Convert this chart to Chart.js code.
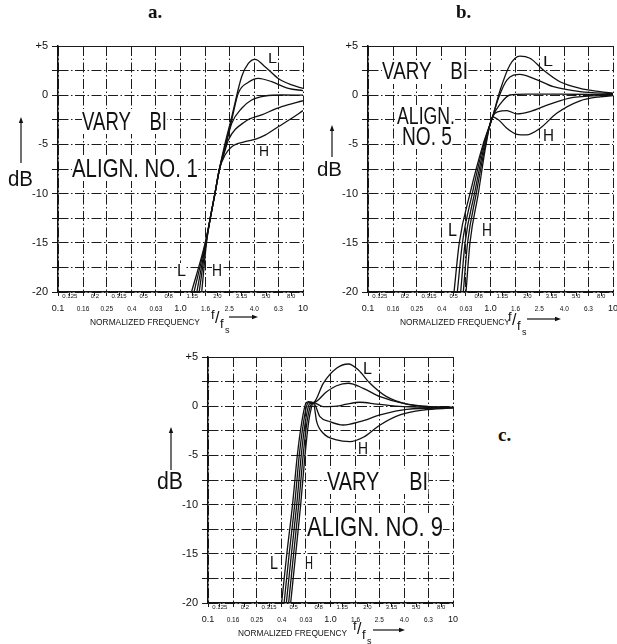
<!DOCTYPE html>
<html>
<head>
<meta charset="utf-8">
<script src="https://cdn.jsdelivr.net/npm/chart.js@4.4.1/dist/chart.umd.min.js"></script>
<style>
  body { margin: 0; background: #fff; width: 617px; height: 644px; position: relative; overflow: hidden;
         font-family: "Liberation Sans", Arial, sans-serif; color: #111; }
  canvas { position: absolute; }
  .lbl { position: absolute; white-space: pre; line-height: 1; transform-origin: 0 0; }
  .bg { background: #fff; }
  svg { position: absolute; left: 0; top: 0; }
</style>
</head>
<body>
<canvas id="chart-a" width="310" height="330" style="left:0;top:0"></canvas>
<canvas id="chart-b" width="307" height="330" style="left:310px;top:0"></canvas>
<canvas id="chart-c" width="310" height="330" style="left:150px;top:311px"></canvas>
<script>
// x axis: R10 steps from 0.1 to 10, labels alternate between two rows
const freqTicks = [0.1, 0.125, 0.16, 0.2, 0.25, 0.315, 0.4, 0.5, 0.63, 0.8, 1, 1.25, 1.6, 2, 2.5, 3.15, 4, 5, 6.3, 8, 10];
const freqLabels = ['0.1', '0.125', '0.16', '0.2', '0.25', '0.315', '0.4', '0.5', '0.63', '0.8', '1.0',
                    '1.25', '1.6', '2.0', '2.5', '3.15', '4.0', '5.0', '6.3', '8.0', '10'];
const dbTicks = [-20, -17.5, -15, -12.5, -10, -7.5, -5, -2.5, 0, 2.5, 5];
const dbLabels = ['-20', '', '-15', '', '-10', '', '-5', '', '0', '', '+5'];

// response curves, [f/fs, dB], from low Bl (L) to high Bl (H)
const alignOne = [
  [[1.23, -20], [1.59, -15], [1.75, -12.5], [1.91, -10], [2.08, -7.5], [2.3, -5.0], [2.62, -2.2], [3.16, 1.9], [3.58, 3.24], [4.06, 3.65], [4.9, 2.9], [6.28, 1.7], [8.09, 1.04], [10, 0.7]],
  [[1.29, -20], [1.6, -15], [1.75, -12.5], [1.91, -10], [2.08, -7.5], [2.3, -5.3], [2.62, -2.5], [2.96, 0.19], [3.58, 1.31], [4.32, 1.72], [5.55, 1.37], [7.59, 0.7], [10, 0.46]],
  [[1.36, -20], [1.61, -15], [1.75, -12.5], [1.91, -10], [2.08, -7.5], [2.3, -5.5], [2.62, -2.86], [3.16, -1.33], [3.81, -0.49], [4.9, -0.08], [6.7, 0.02], [10, 0]],
  [[1.42, -20], [1.62, -15], [1.75, -12.5], [1.91, -10], [2.08, -7.5], [2.3, -5.7], [2.46, -4.55], [3.36, -2.69], [4.6, -2.0], [6.7, -1.17], [10, -0.56]],
  [[1.49, -20], [1.63, -15], [1.75, -12.5], [1.91, -10], [2.08, -7.5], [2.31, -6.08], [2.62, -5.23], [3.36, -4.72], [4.06, -4.48], [4.9, -4.05], [6.28, -3.2], [8.09, -2.35], [10, -1.57]]
];

const alignFive = [
  [[0.504, -20], [0.556, -15], [0.68, -10], [0.87, -5], [1.04, -2.2], [1.2, 0.53], [1.44, 3.07], [1.74, 3.98], [2.1, 3.75], [2.7, 2.56], [3.69, 1.37], [5.38, 0.7], [7.83, 0.36], [10, 0.2]],
  [[0.536, -20], [0.59, -15], [0.71, -10], [0.88, -5], [1.04, -2.2], [1.16, -0.31], [1.36, 1.54], [1.74, 2.12], [2.24, 1.72], [3.26, 0.86], [5.38, 0.36], [10, 0.15]],
  [[0.571, -20], [0.62, -15], [0.74, -10], [0.895, -5], [1.04, -2.2], [1.2, -0.9], [1.44, 0.02], [1.96, 0.1], [3.5, 0.1], [10, 0.05]],
  [[0.6, -20], [0.65, -15], [0.765, -10], [0.91, -5], [1.04, -2.2], [1.16, -1.67], [1.36, -1.57], [1.64, -1.9], [2.1, -1.67], [3.06, -0.9], [4.74, -0.22], [10, 0]],
  [[0.631, -20], [0.68, -15], [0.795, -10], [0.92, -5], [1.04, -2.2], [1.16, -2.5], [1.36, -3.36], [1.64, -3.97], [1.96, -4.03], [2.54, -3.36], [3.47, -1.84], [5.38, -0.57], [7.83, -0.16], [10, -0.05]]
];

const alignNine = [
  [[0.399, -20], [0.44, -15], [0.49, -10], [0.536, -5], [0.585, -1.5], [0.625, 0.2], [0.66, 0.45], [0.724, 0.36], [0.873, 2.33], [1.12, 3.85], [1.4, 4.29], [1.69, 3.68], [2.1, 2.33], [2.87, 0.97], [4.19, 0.22], [6.49, -0.05], [10, -0.11]],
  [[0.418, -20], [0.46, -15], [0.51, -10], [0.556, -5], [0.605, -1.5], [0.645, 0.2], [0.68, 0.42], [0.724, 0.36], [0.93, 1.47], [1.12, 2.08], [1.4, 2.33], [1.85, 1.82], [2.54, 0.97], [3.93, 0.29], [6.49, -0.05], [10, -0.12]],
  [[0.436, -20], [0.48, -15], [0.53, -10], [0.577, -5], [0.625, -1.5], [0.665, 0.1], [0.69, 0.3], [0.724, 0.36], [0.873, -0.05], [1.12, 0], [1.36, 0.22], [1.74, 0.4], [2.38, 0.22], [3.93, -0.05], [10, -0.14]],
  [[0.455, -20], [0.5, -15], [0.55, -10], [0.598, -5], [0.645, -1.5], [0.685, 0.0], [0.724, 0.36], [0.82, -1.07], [0.99, -1.57], [1.27, -1.91], [1.74, -1.57], [2.54, -0.89], [4.19, -0.32], [10, -0.16]],
  [[0.473, -20], [0.52, -15], [0.571, -10], [0.619, -5], [0.665, -1.5], [0.7, -0.1], [0.724, 0.36], [0.771, -1.57], [0.873, -2.75], [1.12, -3.43], [1.44, -3.6], [1.85, -3.16], [2.54, -1.91], [3.69, -0.89], [5.72, -0.39], [10, -0.18]]
];

Chart.defaults.font.family = '"Liberation Sans", Arial, sans-serif';
Chart.defaults.color = '#111';

const gridDash = [10, 2.5, 1.5, 2.5];
const ink = '#1c1c1c';

function makePanel(id, curves, padRight) {
  return new Chart(document.getElementById(id), {
    type: 'line',
    data: {
      datasets: curves.map(c => ({
        data: c.map(([f, db]) => ({ x: f, y: db })),
        borderColor: '#111',
        borderWidth: 1.3,
        pointRadius: 0,
        fill: false,
        cubicInterpolationMode: 'monotone'
      }))
    },
    options: {
      responsive: false,
      animation: false,
      devicePixelRatio: 1,
      layout: { padding: { top: 46, right: padRight, left: 0, bottom: 0 } },
      plugins: { legend: { display: false }, tooltip: { enabled: false } },
      scales: {
        x: {
          type: 'logarithmic',
          min: 0.1,
          max: 10,
          afterBuildTicks: s => { s.ticks = freqTicks.map(v => ({ value: v })); },
          afterFit: s => { s.height = 38; s.paddingLeft = 0; s.paddingRight = 0; },
          grid: {
            color: ctx => (ctx.index % 2 ? 'rgba(0,0,0,0)' : ink),
            tickColor: ink,
            lineWidth: 1,
            tickLength: 4
          },
          border: { display: true, color: '#111', width: 1.5, dash: gridDash },
          ticks: {
            autoSkip: false,
            maxRotation: 0,
            minRotation: 0,
            padding: -1,
            color: '#111',
            font: ctx => {
              if (ctx.index % 2) return { size: 6, lineHeight: '3.6px' };
              const decade = ctx.index % 10 === 0;
              return { size: decade ? 9 : 6.5, lineHeight: '9.3px' };
            },
            callback: (v, i) => (i % 2 ? freqLabels[i] : ['', freqLabels[i]])
          }
        },
        y: {
          type: 'linear',
          min: -20,
          max: 5,
          afterBuildTicks: s => { s.ticks = dbTicks.map(v => ({ value: v })); },
          afterFit: s => { s.width = 58; s.paddingTop = 0; s.paddingBottom = 0; },
          grid: { color: ink, lineWidth: 1, tickLength: 6 },
          border: {
            display: true, color: '#111', width: 1.5,
            dash: ctx => (ctx.tick && ctx.tick.value === 5 ? [] : gridDash)
          },
          ticks: {
            padding: 4,
            color: '#111',
            font: { size: 11 },
            callback: v => dbLabels[dbTicks.indexOf(v)]
          }
        }
      }
    }
  });
}

makePanel('chart-a', alignOne, 7);
makePanel('chart-b', alignFive, 4);
makePanel('chart-c', alignNine, 7);

// hand lettering: text, left, right, cap top, cap bottom, white backing
const lettering = [
  ['VARY\u2003BI', 82, 167, 112, 130, true],
  ['ALIGN. NO. 1', 72, 198, 158, 177, true],
  ['L', 268, 277, 52, 63],
  ['H', 259, 269, 145, 156],
  ['L', 177, 186, 265, 277, true],
  ['H', 212, 222, 265, 277, true],
  ['dB', 8, 33, 171, 187],
  ['NORMALIZED FREQUENCY', 90, 200, 319, 325],

  ['VARY\u2003BI', 382, 468, 63, 80, true],
  ['ALIGN.', 397, 455, 108, 125, true],
  ['NO. 5', 402, 452, 127, 145, true],
  ['L', 543, 553, 55, 66],
  ['H', 543, 554, 130, 142],
  ['L', 448, 457, 223, 236, true],
  ['H', 482, 492, 223, 236, true],
  ['dB', 317, 342, 162, 177],
  ['NORMALIZED FREQUENCY', 400, 510, 319, 325],

  ['VARY\u2003\u2002BI', 327, 428, 472, 490, true],
  ['ALIGN. NO. 9', 307, 443, 517, 537, true],
  ['L', 363, 372, 363, 375],
  ['H', 358, 368, 443, 455],
  ['L', 270, 278, 556, 569, true],
  ['H', 305, 313, 556, 569, true],
  ['dB', 157, 183, 473, 490],
  ['NORMALIZED FREQUENCY', 238, 347, 630, 636]
];

function place(text, x0, x1, capTop, capBottom, backed) {
  const el = document.createElement('div');
  el.className = 'lbl' + (backed ? ' bg' : '');
  const size = (capBottom - capTop) / 0.716;
  el.style.fontSize = size + 'px';
  el.textContent = text;
  document.body.appendChild(el);
  const w = el.getBoundingClientRect().width;
  el.style.left = x0 + 'px';
  el.style.top = (capTop - 0.1305 * size) + 'px';
  el.style.transform = 'scaleX(' + ((x1 - x0) / w).toFixed(3) + ')';
}
lettering.forEach(l => place(...l));

function put(text, left, top, size, style) {
  const el = document.createElement('div');
  el.className = 'lbl';
  el.style.left = left + 'px';
  el.style.top = top + 'px';
  el.style.fontSize = size + 'px';
  if (style) el.style.cssText += style;
  el.textContent = text;
  document.body.appendChild(el);
}

// panel letters
put('a.', 148, 2, 19, 'font-family:"Liberation Serif",serif;font-weight:bold');
put('b.', 456, 2, 19, 'font-family:"Liberation Serif",serif;font-weight:bold');
put('c.', 498, 425, 19, 'font-family:"Liberation Serif",serif;font-weight:bold');

// f/fs marks under each axis
function ratioMark(x, y) {
  put('f', x, y, 13);
  put('/', x + 4, y + 2, 16);
  put('f', x + 9, y + 9, 13);
  put('s', x + 14, y + 18, 9);
}
ratioMark(211, 308);
ratioMark(508, 310);
ratioMark(353, 619);

function arrow(x1, y1, x2, y2) {
  const a = Math.atan2(y2 - y1, x2 - x1), len = 6, half = 2.2;
  const bx = x2 - len * Math.cos(a), by = y2 - len * Math.sin(a);
  const px = -Math.sin(a) * half, py = Math.cos(a) * half;
  return '<line x1="' + x1 + '" y1="' + y1 + '" x2="' + bx + '" y2="' + by + '" stroke="#111" stroke-width="1.2"/>' +
    '<polygon points="' + x2 + ',' + y2 + ' ' + (bx + px) + ',' + (by + py) + ' ' + (bx - px) + ',' + (by - py) + '" fill="#111"/>';
}
const arrows = [
  arrow(21, 163, 21, 117), arrow(332, 157, 332, 125), arrow(171, 470, 171, 427),
  arrow(229, 317, 258, 317), arrow(527, 319, 561, 319), arrow(373, 630, 405, 630)
];
document.body.insertAdjacentHTML('beforeend',
  '<svg width="617" height="644" xmlns="http://www.w3.org/2000/svg">' + arrows.join('') + '</svg>');
</script>
</body>
</html>
